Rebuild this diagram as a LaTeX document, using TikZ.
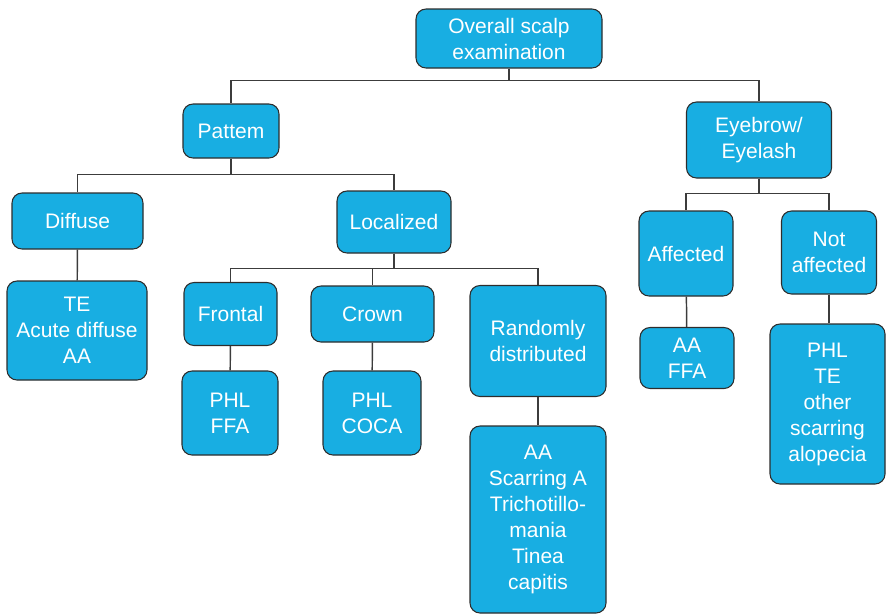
\documentclass[tikz,border=0pt]{standalone}
\usepackage{fontspec}
\setmainfont{Liberation Sans}
\definecolor{boxblue}{RGB}{24,174,226}
\definecolor{edgegray}{RGB}{45,45,45}
\definecolor{linegray}{RGB}{60,60,60}
\tikzset{
  box/.style={draw=edgegray, line width=0.8pt, fill=boxblue, rounded corners=7.5pt,
    text=white, align=center, inner sep=0pt,
    font=\fontsize{15.75}{19.5}\selectfont},
  link/.style={draw=linegray, line width=1.1pt}
}
\begin{document}
\begin{tikzpicture}[x=0.75pt, y=-0.75pt]
        \useasboundingbox (0,0) rectangle (886,615);

        % top levels
        \node (top) at (509, 38.5) [box, minimum width=139.5pt, minimum height=44.25pt] {Overall scalp\\examination};
        \node (pat) at (231, 131) [box, minimum width=72pt, minimum height=40.5pt] {Pattem};
        \node (eye) at (759, 140) [box, minimum width=108.75pt, minimum height=57pt] {Eyebrow/\\Eyelash};

        % pattern branch
        \node (dif) at (77.5, 221) [box, minimum width=98.25pt, minimum height=42pt] {Diffuse};
        \node (loc) at (394, 222) [box, minimum width=85.5pt, minimum height=46.5pt] {Localized};
        \node (te) at (77, 330.5) [box, minimum width=105pt, minimum height=74.25pt] {TE\\Acute diffuse\\AA};

        \node (fro) at (230.5, 314) [box, minimum width=69.75pt, minimum height=47.25pt] {Frontal};
        \node (crw) at (372.5, 314) [box, minimum width=92.25pt, minimum height=42pt] {Crown};
        \node (rnd) at (538, 341) [box, minimum width=102pt, minimum height=83.25pt] {Randomly\\distributed};

        \node (ffa) at (230, 413) [box, minimum width=72pt, minimum height=63pt] {PHL\\FFA};
        \node (coca) at (372, 413) [box, minimum width=73.5pt, minimum height=63pt] {PHL\\COCA};
        \node (rndl) at (538, 519.5) [box, minimum width=102pt, minimum height=140.25pt] {AA\\Scarring A\\Trichotillo-\\mania\\Tinea\\capitis};

        % eyebrow branch
        \node (aff) at (686, 253.5) [box, minimum width=70.5pt, minimum height=63.75pt] {Affected};
        \node (naf) at (829, 252.5) [box, minimum width=71.25pt, minimum height=62.25pt] {Not\\affected};
        \node (aaffa) at (687, 358) [box, minimum width=70.5pt, minimum height=45.75pt] {AA\\FFA};
        \node (phl) at (827.5, 404) [box, minimum width=86.25pt, minimum height=120pt] {PHL\\TE\\other\\scarring\\alopecia};

        % connectors
        \draw [link] (top.south) -- ++(0,12) -| (pat.north);
        \draw [link] (top.south) -- ++(0,12) -| (eye.north);
        \draw [link] (pat.south) -- ++(0,16) -| (dif.north);
        \draw [link] (pat.south) -- ++(0,16) -| (loc.north);
        \draw [link] (loc.south) -- ++(0,15) -| (fro.north);
        \draw [link] (loc.south) -- ++(0,15) -| (crw.north);
        \draw [link] (loc.south) -- ++(0,15) -| (rnd.north);
        \draw [link] (eye.south) -- ++(0,15) -| (aff.north);
        \draw [link] (eye.south) -- ++(0,15) -| (naf.north);

        \draw [link] (dif) -- (te);
        \draw [link] (fro) -- (ffa);
        \draw [link] (crw) -- (coca);
        \draw [link] (rnd) -- (rndl);
        \draw [link] (aff) -- (aaffa);
        \draw [link] (naf.south) -- (naf.south |- phl.north);
    \end{tikzpicture}
\end{document}
